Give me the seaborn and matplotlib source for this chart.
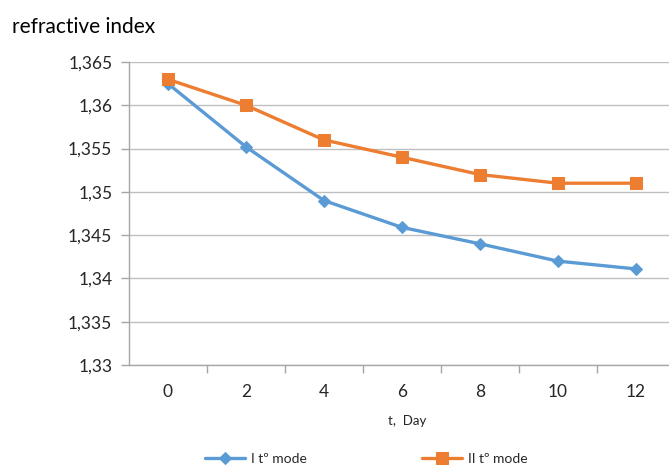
import matplotlib
matplotlib.use("Agg")
import matplotlib.pyplot as plt
import matplotlib.ticker as mticker
import seaborn as sns
import pandas as pd

days = [0, 2, 4, 6, 8, 10, 12]
mode_1 = [1.3625, 1.3552, 1.3490, 1.3459, 1.3440, 1.3420, 1.3411]
mode_2 = [1.3630, 1.3600, 1.3560, 1.3540, 1.3520, 1.3510, 1.3510]
series_names = ["I tº mode", "II tº mode"]
y_ticks = [1.33, 1.335, 1.34, 1.345, 1.35, 1.355, 1.36, 1.365]

sns.set_theme(style="white")
plt.rcParams["font.family"] = ["Lato", "DejaVu Sans"]

df = pd.DataFrame({
    "day": days * 2,
    "value": mode_1 + mode_2,
    "series": [series_names[0]] * len(days) + [series_names[1]] * len(days),
})

fig = plt.figure(figsize=(6.69, 4.69), dpi=100)
ax = fig.add_axes([0.1928, 0.2217, 0.816, 0.6461])

palette = {series_names[0]: "#5B9BD5", series_names[1]: "#ED7D31"}
markers = {series_names[0]: "D", series_names[1]: "s"}
sizes = {series_names[0]: 6.5, series_names[1]: 9}

for name in series_names:
    sub = df[df["series"] == name]
    sns.lineplot(data=sub, x="day", y="value", ax=ax, color=palette[name],
                 marker=markers[name], markersize=sizes[name],
                 markeredgecolor=palette[name], linewidth=2.4,
                 label=name, legend=False)

ax.set_xlim(-1, 13)
ax.set_ylim(1.33, 1.365)
ax.set_yticks(y_ticks)
ax.yaxis.set_major_formatter(mticker.FuncFormatter(
    lambda v, p: f"{v:.3f}".rstrip("0").replace(".", ",")))
ax.set_xticks(days)
ax.set_xticks([1, 3, 5, 7, 9, 11], minor=True)
ax.grid(axis="y", color="#BFBFBF", linewidth=1)
ax.set_axisbelow(True)

for s in ["top", "right"]:
    ax.spines[s].set_visible(False)
for s in ["left", "bottom"]:
    ax.spines[s].set_color("#A6A6A6")
    ax.spines[s].set_linewidth(1)

ax.tick_params(axis="y", which="major", length=6, width=1, color="#A6A6A6",
               labelsize=12.5, pad=6, left=True)
ax.tick_params(axis="x", which="major", length=0, labelsize=12.5, pad=14)
ax.tick_params(axis="x", which="minor", length=6, width=1, color="#A6A6A6",
               bottom=True)
for lbl in ax.get_xticklabels() + ax.get_yticklabels():
    lbl.set_color("#262626")

ax.set_xlabel("t,  Day", fontsize=9.5, color="#262626")
ax.xaxis.set_label_coords(0.51, -0.165)
ax.set_ylabel("")
fig.text(0.018, 0.942, "refractive index", fontsize=15, color="#000000",
         ha="left", va="center")

handles, labels = ax.get_legend_handles_labels()
fig.legend(handles, labels, loc="center left", bbox_to_anchor=(0.298, 0.022),
           ncol=2, frameon=False, fontsize=10, columnspacing=8.3,
           handlelength=2.9, handletextpad=0.4, borderaxespad=0)

fig.savefig("out.png", dpi=100)
